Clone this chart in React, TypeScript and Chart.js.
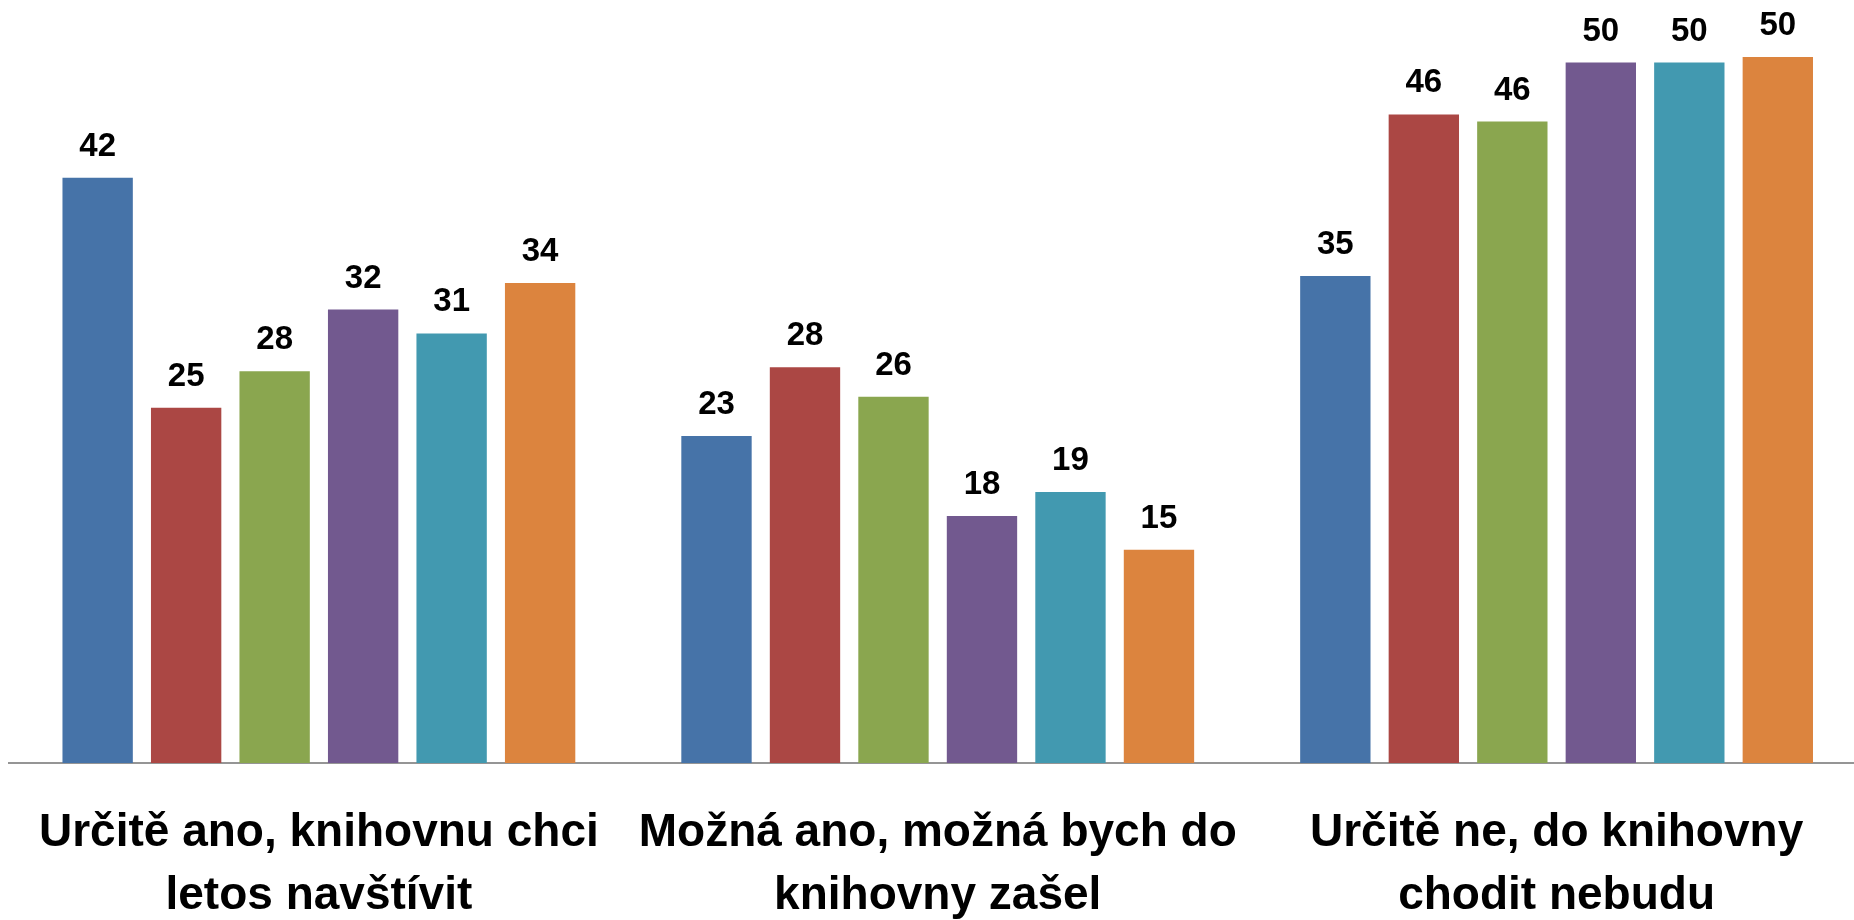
import React, { useEffect, useRef } from "react";
import { Chart, registerables } from "chart.js";

Chart.register(...registerables);

const categories: string[][] = [
  ["Určitě ano, knihovnu chci", "letos navštívit"],
  ["Možná ano, možná bych do", "knihovny zašel"],
  ["Určitě ne, do knihovny", "chodit nebudu"],
];

const seriesNames = ["Řada 1", "Řada 2", "Řada 3", "Řada 4", "Řada 5", "Řada 6"];

const series1 = [41.7, 23.3, 34.7];
const series2 = [25.3, 28.2, 46.2];
const series3 = [27.9, 26.1, 45.7];
const series4 = [32.3, 17.6, 49.9];
const series5 = [30.6, 19.3, 49.9];
const series6 = [34.2, 15.2, 50.3];

const seriesColors = ["#4673A8", "#AB4744", "#8AA64F", "#72598F", "#4299B0", "#DC843E"];

const FONT = "'Liberation Sans', Arial, sans-serif";

const valueLabels = {
  id: "valueLabels",
  afterDatasetsDraw(chart: any) {
    const ctx = chart.ctx;
    ctx.save();
    ctx.fillStyle = "#000";
    ctx.font = `bold 33px ${FONT}`;
    ctx.textAlign = "center";
    ctx.textBaseline = "alphabetic";
    chart.data.datasets.forEach((ds: any, di: number) => {
      const meta = chart.getDatasetMeta(di);
      meta.data.forEach((bar: any, i: number) => {
        const v = ds.data[i];
        ctx.fillText(String(Math.round(v)), bar.x, bar.y - 22);
      });
    });
    ctx.restore();
  },
};

export default function App() {
  const ref = useRef<HTMLCanvasElement | null>(null);

  useEffect(() => {
    if (!ref.current) return;
    const all = [series1, series2, series3, series4, series5, series6];
    const chart = new Chart(ref.current, {
      type: "bar",
      data: {
        labels: categories,
        datasets: all.map((d, i) => ({
          label: seriesNames[i],
          data: d,
          backgroundColor: seriesColors[i],
          borderWidth: 0,
          categoryPercentage: 0.858,
          barPercentage: 0.795,
        })),
      },
      options: {
        animation: false,
        responsive: false,
        devicePixelRatio: 1,
        layout: { padding: { left: 6, top: 5, right: 0, bottom: 0 } },
        plugins: {
          legend: { display: false },
          tooltip: { enabled: false },
        },
        scales: {
          x: {
            type: "category",
            offset: true,
            grid: { display: false, drawTicks: false },
            border: { display: true, color: "#959595", width: 2 },
            ticks: {
              color: "#000",
              padding: 38,
              autoSkip: false,
              maxRotation: 0,
              minRotation: 0,
              font: { family: FONT, size: 46, weight: "bold", lineHeight: 1.385 },
            },
            afterFit: (scale: any) => {
              scale.height = 157;
            },
          },
          y: {
            display: false,
            min: 0,
            max: 54,
          },
        },
      },
      plugins: [valueLabels],
    });
    return () => chart.destroy();
  }, []);

  return (
    <div
      style={{
        position: "absolute",
        left: 0,
        top: 0,
        width: 1854,
        height: 920,
        overflow: "hidden",
        background: "#fff",
      }}
    >
      <canvas ref={ref} width={1866} height={920} style={{ width: 1866, height: 920, display: "block" }} />
    </div>
  );
}
